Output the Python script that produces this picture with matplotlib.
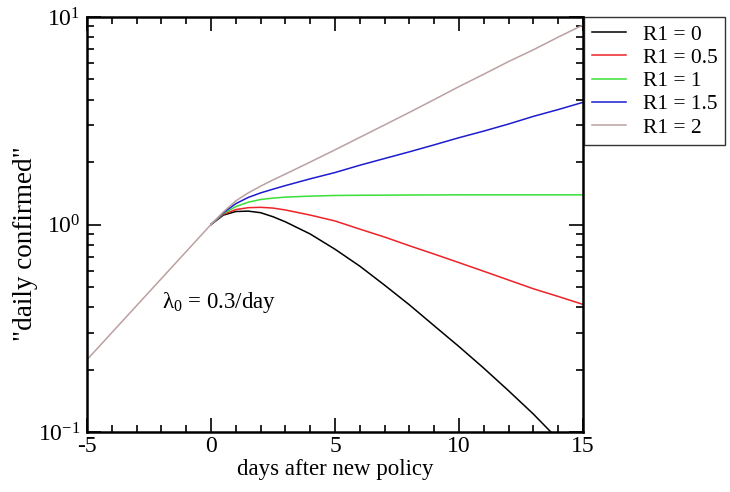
import matplotlib
matplotlib.use("Agg")
import matplotlib.pyplot as plt
from matplotlib.ticker import FixedLocator, LogLocator, NullFormatter, FixedFormatter

plt.rcParams['font.family'] = ['Liberation Serif', 'DejaVu Serif']
plt.rcParams['mathtext.fontset'] = 'custom'
plt.rcParams['mathtext.rm'] = 'Liberation Serif'
plt.rcParams['mathtext.it'] = 'Liberation Serif:italic'
plt.rcParams['axes.unicode_minus'] = False

# common pre-policy part
x_pre = [-5, 0]
y_pre = [0.223, 1.0]

# post-policy days
x_post = [0, 0.5, 1, 1.5, 2, 2.5, 3, 4, 5, 6, 7, 8, 9, 10, 11, 12, 13, 14, 15]

y_r0 = [1.0, 1.11, 1.155, 1.16, 1.14, 1.09, 1.03, 0.90, 0.76, 0.63, 0.51, 0.41, 0.325, 0.258, 0.203, 0.158, 0.122, 0.092, 0.068]
y_r05 = [1.0, 1.12, 1.18, 1.205, 1.21, 1.20, 1.175, 1.11, 1.04, 0.95, 0.87, 0.79, 0.72, 0.655, 0.595, 0.54, 0.49, 0.45, 0.412]
y_r1 = [1.0, 1.13, 1.22, 1.28, 1.32, 1.34, 1.355, 1.37, 1.38, 1.383, 1.385, 1.387, 1.388, 1.39, 1.39, 1.39, 1.39, 1.39, 1.39]
y_r15 = [1.0, 1.14, 1.26, 1.35, 1.42, 1.48, 1.54, 1.66, 1.78, 1.93, 2.08, 2.24, 2.42, 2.62, 2.82, 3.05, 3.32, 3.58, 3.88]
y_r2 = [1.0, 1.15, 1.30, 1.42, 1.53, 1.64, 1.75, 2.0, 2.29, 2.63, 3.02, 3.47, 4.0, 4.62, 5.3, 6.1, 6.95, 8.0, 9.15]

labels = ['R1 = 0', 'R1 = 0.5', 'R1 = 1', 'R1 = 1.5', 'R1 = 2']
colors = ['#000000', '#ee2228', '#38e038', '#1c1cd0', '#bda0a0']
series = [y_r0, y_r05, y_r1, y_r15, y_r2]

fig = plt.figure(figsize=(7.3, 4.92), dpi=100)
ax = fig.add_axes([87/730, 60/492, 496/730, 415/492])

handles = []
for ys, c, lab in zip(series, colors, labels):
    h, = ax.plot(x_post, ys, color=c, lw=1.1, label=lab)
    handles.append(h)
ax.plot(x_pre, y_pre, color=colors[-1], lw=1.1)

ax.set_yscale('log')
ax.set_xlim(-5, 15)
ax.set_ylim(0.1, 10)

ax.xaxis.set_major_locator(FixedLocator([-5, 0, 5, 10, 15]))
ax.xaxis.set_minor_locator(FixedLocator(list(range(-5, 16))))
ax.yaxis.set_major_locator(FixedLocator([0.1, 1, 10]))
ax.yaxis.set_major_formatter(FixedFormatter([r'$\mathregular{10^{-1}}$', r'$\mathregular{10^{0}}$', r'$\mathregular{10^{1}}$']))
ax.yaxis.set_minor_locator(LogLocator(base=10, subs=range(2, 10)))
ax.yaxis.set_minor_formatter(NullFormatter())

ax.tick_params(which='both', direction='in', top=True, right=True, width=1.2, labelsize=17, colors='black')
ax.tick_params(which='major', length=10)
ax.tick_params(axis='x', which='major', pad=3)
ax.tick_params(axis='y', which='major', pad=5)
ax.tick_params(which='minor', length=5)
for s in ax.spines.values():
    s.set_linewidth(1.8)

ax.set_xlabel('days after new policy', fontsize=16.5, labelpad=1)
ax.set_ylabel('"daily confirmed"', fontsize=19.5)
ax.yaxis.set_label_coords(-0.098, 0.453)

ax.text(-1.98, 0.396, r'λ$_0$ = 0.3/day', fontsize=16.5, va='baseline')

leg = fig.legend(handles=handles, loc='upper left', bbox_to_anchor=(584/730, 475/492),
                 frameon=True, fancybox=False, borderaxespad=0, handlelength=1.6,
                 handletextpad=0.8, labelspacing=0.15, borderpad=0.35,
                 prop={'size': 15.5})
leg.get_frame().set_edgecolor('black')
leg.get_frame().set_linewidth(1.0)

fig.savefig('out.png', dpi=100)
